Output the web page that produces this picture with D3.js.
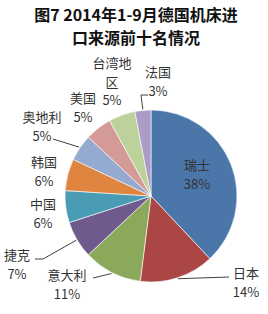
<!DOCTYPE html>
<html>
<head>
<meta charset="utf-8">
<script src="https://cdn.jsdelivr.net/npm/d3@7"></script>
<style>
  body { margin: 0; background: #fff; }
  text { font-family: "Noto Sans CJK SC", sans-serif; }
</style>
</head>
<body>
<svg id="chart" width="268" height="314"></svg>
<script>
var titleLines = ["图7 2014年1-9月德国机床进", "口来源前十名情况"];
var countries = ["瑞士", "日本", "意大利", "捷克", "中国", "韩国", "奥地利", "美国", "台湾地区", "法国"];
var shares = [38, 14, 11, 7, 6, 6, 5, 5, 5, 3];
var colors = ["#4a76aa", "#aa4644", "#8ca85a", "#6e5a8c", "#4a9cb4", "#e0853f",
              "#94aad1", "#d49a98", "#bdd29a", "#ab9bc6"];

// label layout: lines of name, centre x, first line y, leader end (null = none)
var labelLayout = [
  {lines: ["瑞士"], x: 197, y: 170, leader: null},
  {lines: ["日本"], x: 246, y: 278, leader: [[229, 277]]},
  {lines: ["意大利"], x: 67, y: 280, leader: [[93, 278]]},
  {lines: ["捷克"], x: 17, y: 260, leader: [[43, 259], [35, 259]]},
  {lines: ["中国"], x: 43, y: 209, leader: null},
  {lines: ["韩国"], x: 44, y: 167, leader: null},
  {lines: ["奥地利"], x: 42, y: 122, leader: [[53, 139]]},
  {lines: ["美国"], x: 83, y: 103, leader: null},
  {lines: ["台湾地", "区"], x: 112, y: 68, leader: null},
  {lines: ["法国"], x: 158, y: 77, leader: [[141, 95], [148, 95]]}
];

var svg = d3.select("#chart");
var cx = 151, cy = 196, radius = 86;

svg.selectAll(".title")
  .data(titleLines)
  .enter().append("text")
    .attr("class", "title")
    .attr("x", 136)
    .attr("y", function(d, i) { return 21 + i * 23; })
    .attr("text-anchor", "middle")
    .attr("font-size", "16px")
    .attr("font-weight", "bold")
    .attr("fill", "#111")
    .text(function(d) { return d; });

var pie = d3.pie().sort(null).value(function(d) { return d; });
var arc = d3.arc().innerRadius(0).outerRadius(radius);
var arcs = pie(shares);

var g = svg.append("g").attr("transform", "translate(" + cx + "," + cy + ")");

g.selectAll("path")
  .data(arcs)
  .enter().append("path")
    .attr("d", arc)
    .attr("fill", function(d, i) { return colors[i]; })
    .attr("stroke", "#fff")
    .attr("stroke-width", 0.6);

// leader lines start on the rim at the slice's mid angle
arcs.forEach(function(d, i) {
  var lay = labelLayout[i];
  if (!lay.leader) return;
  var a = (d.startAngle + d.endAngle) / 2;
  var start = [cx + Math.sin(a) * (radius + 1), cy - Math.cos(a) * (radius + 1)];
  var pts = [start].concat(lay.leader);
  svg.append("path")
    .attr("d", d3.line()(pts))
    .attr("fill", "none")
    .attr("stroke", "#404040")
    .attr("stroke-width", 1);
});

arcs.forEach(function(d, i) {
  var lay = labelLayout[i];
  var lines = lay.lines.concat([shares[i] + "%"]);
  svg.append("text")
    .attr("text-anchor", "middle")
    .attr("font-size", "13px")
    .attr("fill", "#333")
    .selectAll("tspan")
    .data(lines)
    .enter().append("tspan")
      .attr("x", lay.x)
      .attr("y", function(t, j) { return lay.y + j * 18.5; })
      .text(function(t) { return t; });
});
</script>
</body>
</html>
